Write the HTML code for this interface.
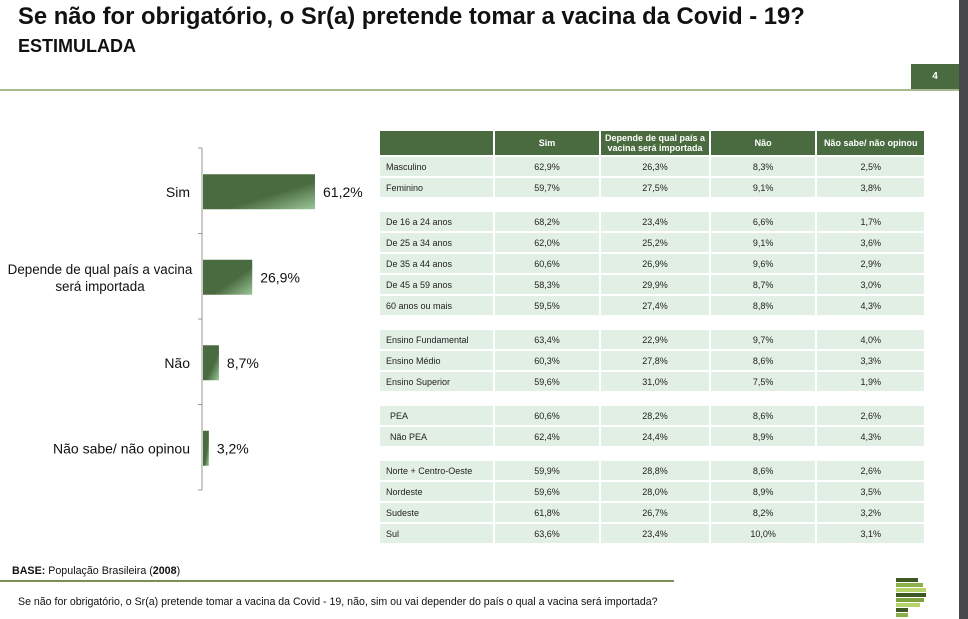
<!DOCTYPE html>
<html><head><meta charset="utf-8"><style>
body{margin:0;width:968px;height:619px;overflow:hidden;background:#fff;font-family:"Liberation Sans",sans-serif;position:relative}
.abs{position:absolute}
table{border-collapse:separate;border-spacing:2px 0;font-size:9px;color:#222}
td{height:19px;border-bottom:2px solid #fff;text-align:center;background:#e2efe4;padding:0}
td.l{text-align:left;padding-left:6px}
th{background:#4a6b40;color:#fff;font-size:9px;font-weight:bold;height:24px;padding:0;line-height:10px;border-bottom:2px solid #fff}
tr.gap td{background:#fff;height:11px}
</style></head><body>
<div class="abs" style="left:18px;top:3px;font-size:23.8px;font-weight:bold;color:#111">Se não for obrigatório, o Sr(a) pretende tomar a vacina da Covid - 19?</div>
<div class="abs" style="left:18px;top:36px;font-size:18px;font-weight:bold;color:#111">ESTIMULADA</div>
<div class="abs" style="left:911px;top:64px;width:48px;height:26px;background:#4a6b40;color:#fff;font-size:10px;font-weight:bold;text-align:center;line-height:26px">4</div>
<div class="abs" style="left:0;top:89px;width:959px;height:2px;background:#a5b98f"></div>
<div class="abs" style="left:959px;top:0;width:9px;height:619px;background:#45494c"></div>

<svg class="abs" style="left:0;top:0" width="400" height="500">
<defs><linearGradient id="g" x1="0" y1="0" x2="1" y2="1"><stop offset="0.6" stop-color="#4a6b40"/><stop offset="1" stop-color="#9cc79a"/></linearGradient></defs>
<g id="chart"></g>
</svg>

<table class="abs" style="left:378px;top:131px;width:548px">
<colgroup><col style="width:113px"><col style="width:105px"><col style="width:108px"><col style="width:105px"><col style="width:107px"></colgroup>
<tbody id="tb"><tr><th></th><th>Sim</th><th>Depende de qual país a<br>vacina será importada</th><th>Não</th><th>Não sabe/ não opinou</th></tr></tbody>
</table>

<div class="abs" style="left:12px;top:565px;font-size:10.7px;color:#111"><b>BASE:</b> População Brasileira (<b>2008</b>)</div>
<div class="abs" style="left:0;top:580px;width:674px;height:2px;background:#7a8f5a"></div>
<div class="abs" style="left:18px;top:596px;font-size:10.6px;color:#111">Se não for obrigatório, o Sr(a) pretende tomar a vacina da Covid - 19, não, sim ou vai depender do país o qual a vacina será importada?</div>
<div class="abs" style="left:896px;top:578px">
<div style="width:22px;height:4px;background:#3e5a22;margin-bottom:1px"></div><div style="width:27px;height:4px;background:#8bb04a;margin-bottom:1px"></div><div style="width:30px;height:4px;background:#b6d36a;margin-bottom:1px"></div><div style="width:30px;height:4px;background:#3e5a22;margin-bottom:1px"></div><div style="width:28px;height:4px;background:#7ea53d;margin-bottom:1px"></div><div style="width:24px;height:4px;background:#b6d36a;margin-bottom:1px"></div><div style="width:12px;height:4px;background:#3e5a22;margin-bottom:1px"></div><div style="width:12px;height:4px;background:#8bb04a"></div>
</div>

<script>
const categories=[["Sim"],["Depende de qual país a vacina","será importada"],["Não"],["Não sabe/ não opinou"]];
const values=[61.2,26.9,8.7,3.2];
const valueLabels=["61,2%","26,9%","8,7%","3,2%"];
const ns="http://www.w3.org/2000/svg";
const g=document.getElementById('chart');
const x0=203,top0=148,band=85.5,scale=112/61.2;
const xs=v=>x0+v*scale;
function mk(t,a){const e=document.createElementNS(ns,t);for(const k in a)e.setAttribute(k,a[k]);g.appendChild(e);return e;}
const ax=mk('line',{x1:202,y1:top0,x2:202,y2:top0+band*4,stroke:'#999'});


for(let i=0;i<=4;i++){const t=mk('line',{x1:198,x2:202,y1:top0+i*band,y2:top0+i*band,stroke:'#999'});

}
values.forEach((v,i)=>{const cy=top0+band*(i+0.5)+1;
const r=mk('rect',{x:x0,y:cy-17.5,width:xs(v)-x0,height:35,fill:'url(#g)'});


const vl=mk('text',{x:xs(v)+8,y:cy+5,'font-size':14,fill:'#111'});vl.textContent=valueLabels[i];


const lines=categories[i];
lines.forEach((s,j)=>{const multi=lines.length>1;
const t=mk('text',{x:multi?100:190,y:cy+5+(j-(lines.length-1)/2)*17,'font-size':multi?13.4:14,fill:'#111','text-anchor':multi?'middle':'end'});
t.textContent=s;

});
});
const rows=[["Masculino","62,9%","26,3%","8,3%","2,5%"],["Feminino","59,7%","27,5%","9,1%","3,8%"],null,
["De 16 a 24 anos","68,2%","23,4%","6,6%","1,7%"],["De 25 a 34 anos","62,0%","25,2%","9,1%","3,6%"],["De 35 a 44 anos","60,6%","26,9%","9,6%","2,9%"],["De 45 a 59 anos","58,3%","29,9%","8,7%","3,0%"],["60 anos ou mais","59,5%","27,4%","8,8%","4,3%"],null,
["Ensino Fundamental","63,4%","22,9%","9,7%","4,0%"],["Ensino Médio","60,3%","27,8%","8,6%","3,3%"],["Ensino Superior","59,6%","31,0%","7,5%","1,9%"],null,
[" PEA","60,6%","28,2%","8,6%","2,6%"],[" Não PEA","62,4%","24,4%","8,9%","4,3%"],null,
["Norte + Centro-Oeste","59,9%","28,8%","8,6%","2,6%"],["Nordeste","59,6%","28,0%","8,9%","3,5%"],["Sudeste","61,8%","26,7%","8,2%","3,2%"],["Sul","63,6%","23,4%","10,0%","3,1%"]];
const tb=document.getElementById('tb');
rows.forEach(r=>{const tr=document.createElement('tr');
if(!r){tr.className='gap';tr.innerHTML='<td colspan="5"></td>';}
else{

r.forEach((c,j)=>{const td=document.createElement('td');if(j==0){td.className='l';if(c.startsWith(' '))td.style.paddingLeft='10px';}td.textContent=c.trim();tr.appendChild(td);});}
tb.appendChild(tr);});
</script>
</body></html>
